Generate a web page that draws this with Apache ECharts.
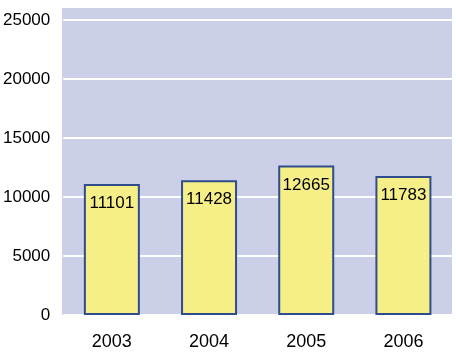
<!DOCTYPE html>
<html><head><meta charset="utf-8">
<script src="https://cdn.jsdelivr.net/npm/echarts@6/dist/echarts.min.js"></script>
<style>html,body{margin:0;padding:0;background:#fff;}#c{width:456px;height:355px;}</style>
</head><body><div id="c"></div>
<script>
const categories = ['2003', '2004', '2005', '2006'];
const values = [11101, 11428, 12665, 11783];
const yTicks = [0, 5000, 10000, 15000, 20000, 25000];

const chart = echarts.init(document.getElementById('c'), null, {renderer: 'canvas'});
chart.setOption({
  animation: false,
  backgroundColor: '#ffffff',
  graphic: [{
    type: 'rect', z: -10, silent: true,
    shape: {x: 62, y: 8, width: 390, height: 307},
    style: {fill: '#cbcfe7'}
  }],
  grid: {left: 62, right: 4, top: 20, bottom: 40, containLabel: false},
  xAxis: {
    type: 'category', data: categories,
    axisLine: {show: false}, axisTick: {show: false},
    axisLabel: {color: '#000', fontFamily: 'Liberation Sans, Arial, sans-serif', fontSize: 18, margin: 18}
  },
  yAxis: {
    type: 'value', min: yTicks[0], max: yTicks[yTicks.length - 1], interval: 5000,
    axisLine: {show: false}, axisTick: {show: false},
    splitLine: {show: true, lineStyle: {color: '#ffffff', width: 2}},
    axisLabel: {color: '#000', fontFamily: 'Liberation Sans, Arial, sans-serif', fontSize: 17, margin: 13,
      formatter: v => String(v)}
  },
  series: [{
    type: 'bar', data: values, barWidth: 56,
    itemStyle: {color: '#f6ef88', borderColor: '#2f4c8c', borderWidth: 2},
    label: {show: true, position: 'insideTop', distance: 11, color: '#000',
      fontFamily: 'Liberation Sans, Arial, sans-serif', fontSize: 17, formatter: p => String(p.value)}
  }]
});
</script></body></html>
